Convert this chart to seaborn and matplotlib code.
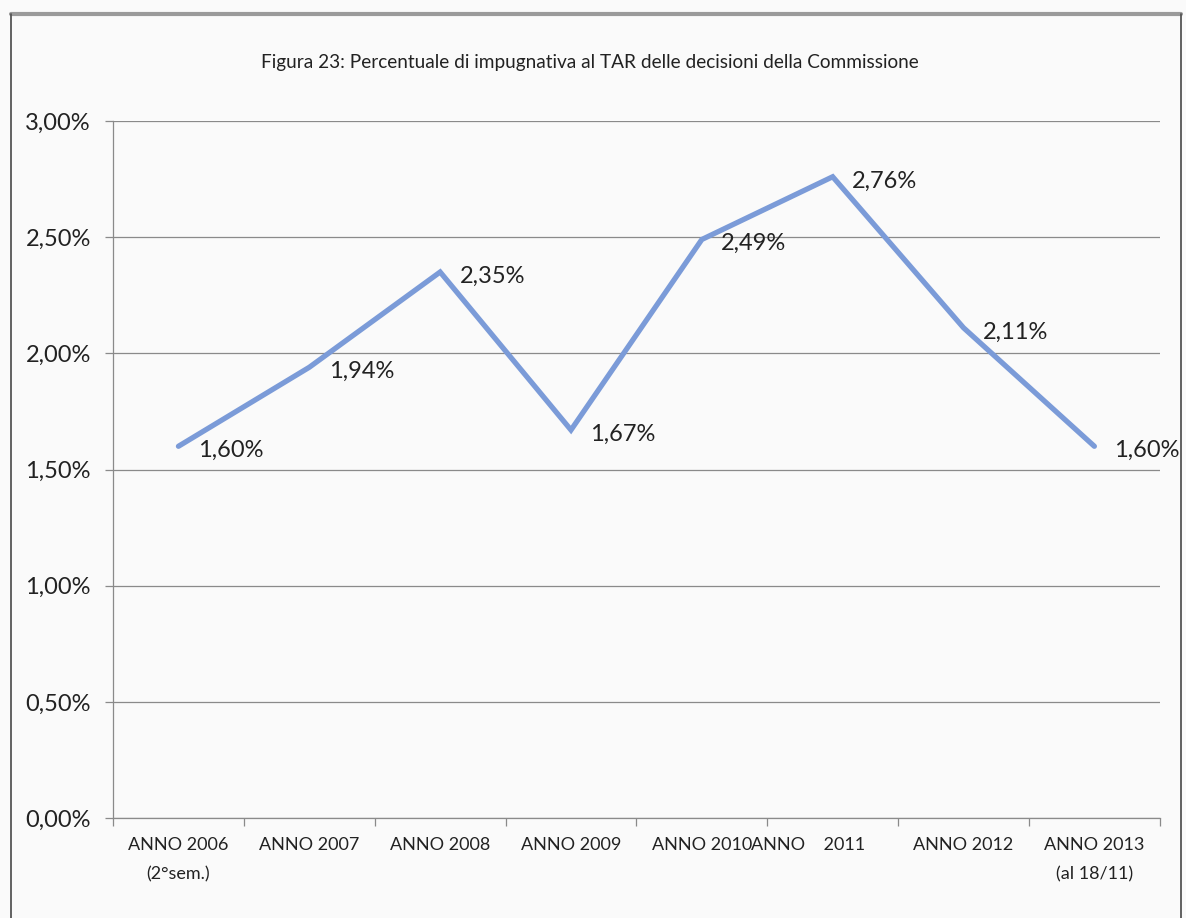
import matplotlib
matplotlib.use("Agg")
import matplotlib.pyplot as plt
from matplotlib.lines import Line2D
from matplotlib.transforms import ScaledTranslation
import seaborn as sns
import pandas as pd

# Data: share of Commission decisions challenged before the TAR (%)
categories = ["ANNO 2006\n(2°sem.)", "ANNO 2007", "ANNO 2008", "ANNO 2009",
              "ANNO 2010", "ANNO    2011", "ANNO 2012", "ANNO 2013\n(al 18/11)"]
values = [1.60, 1.94, 2.35, 1.67, 2.49, 2.76, 2.11, 1.60]
y_ticks = [0.0, 0.5, 1.0, 1.5, 2.0, 2.5, 3.0]
title = "Figura 23: Percentuale di impugnativa al TAR delle decisioni della Commissione"

sns.set_theme(style="white")
plt.rcParams["font.family"] = ["Lato", "DejaVu Sans"]

df = pd.DataFrame({"pos": range(len(categories)), "val": values})

bg = "#fafafa"
fig = plt.figure(figsize=(11.86, 9.18), dpi=100, facecolor=bg)
ax = fig.add_axes([0.0953, 0.1089, 0.8826, 0.7593], facecolor=bg)

sns.lineplot(data=df, x="pos", y="val", ax=ax, color="#7b9bd8",
             linewidth=3.8, solid_joinstyle="miter", legend=False)

ax.set_ylim(0, 3.0)
ax.set_xlim(-0.5, len(categories) - 0.5)
ax.set_yticks(y_ticks)
ax.set_yticklabels([f"{v:.2f}%".replace(".", ",") for v in y_ticks], fontsize=17, color="#222222")
ax.yaxis.grid(True, color="#8a8a8a", linewidth=0.9)
ax.xaxis.grid(False)

# Tick marks at category boundaries, labels at category centres
ax.set_xticks([i - 0.5 for i in range(len(categories) + 1)])
ax.set_xticklabels([])
ax.set_xticks(range(len(categories)), minor=True)
ax.set_xticklabels(categories, minor=True, fontsize=13, color="#222222", linespacing=2.0)
ax.tick_params(axis="x", which="major", direction="out", length=6, color="#8a8a8a", width=0.9, bottom=True)
ax.tick_params(axis="x", which="minor", length=0, pad=14, bottom=True)
ax.tick_params(axis="y", direction="out", length=6, color="#8a8a8a", width=0.9, left=True, pad=10)

# The 2011 label sits slightly left of its category centre
lab = ax.get_xticklabels(minor=True)[5]
lab.set_transform(lab.get_transform() + ScaledTranslation(-25 / 100, 0, fig.dpi_scale_trans))

for side in ["top", "right"]:
    ax.spines[side].set_visible(False)
for side in ["left", "bottom"]:
    ax.spines[side].set_color("#8a8a8a")
    ax.spines[side].set_linewidth(0.9)

ax.set_xlabel("")
ax.set_ylabel("")

# Value labels to the right of each point
for i, v in enumerate(values):
    ax.annotate(f"{v:.2f}%".replace(".", ","), (i, v), xytext=(14, -3),
                textcoords="offset points", ha="left", va="center",
                fontsize=17, color="#222222")

fig.text(0.497, 0.932, title, ha="center", va="center", fontsize=13.7, color="#222222")

# Chart frame
fig.add_artist(Line2D([0.0093, 0.9958], [0.9847, 0.9847], transform=fig.transFigure,
                      color="#9a9a9a", linewidth=3))
fig.add_artist(Line2D([0.0093, 0.0093], [0.0, 0.9847], transform=fig.transFigure,
                      color="#555555", linewidth=1.3))
fig.add_artist(Line2D([0.9958, 0.9958], [0.0, 0.9847], transform=fig.transFigure,
                      color="#555555", linewidth=1.3))

fig.savefig("out.png", dpi=100, facecolor=bg)
